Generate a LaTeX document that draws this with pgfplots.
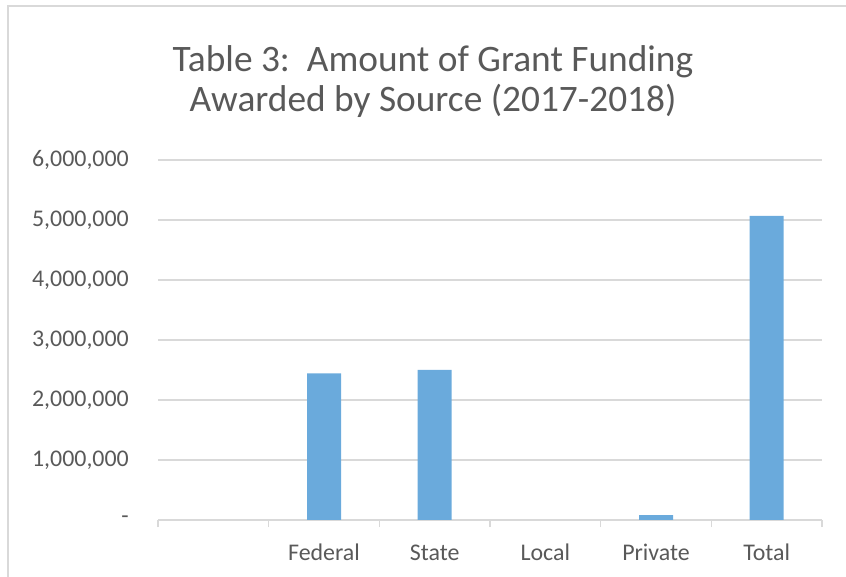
\documentclass[border=0pt]{standalone}
\usepackage{fontspec}
\setmainfont{Carlito}
\usepackage{pgfplots}
\pgfplotsset{compat=1.18}
\definecolor{gridgray}{HTML}{D9D9D9}
\definecolor{txt}{HTML}{595959}
\definecolor{barblue}{HTML}{6AAADC}
\begin{document}
\begin{tikzpicture}
\path[use as bounding box] (0bp,0bp) rectangle (846bp,577bp);
\draw[gridgray, line width=1.5bp] (8bp,0bp) -- (8bp,571bp) -- (846bp,571bp);
\node[anchor=base, text=txt, font=\fontsize{37.5}{42}\selectfont, inner sep=0pt] at (433bp,505bp) {Table 3:\ \ Amount of Grant Funding};
\node[anchor=base, text=txt, font=\fontsize{37.5}{42}\selectfont, inner sep=0pt] at (433bp,465bp) {Awarded by Source (2017-2018)};
\begin{axis}[
  at={(158bp,57bp)}, anchor=south west,
  scale only axis, width=664bp, height=360bp,
  ybar, bar width=34bp, bar shift=0pt,
  xmin=-0.5, xmax=5.5, ymin=0, ymax=6000000,
  ytick={0,1000000,2000000,3000000,4000000,5000000,6000000},
  yticklabels={{-},{1,000,000},{2,000,000},{3,000,000},{4,000,000},{5,000,000},{6,000,000}},
  scaled y ticks=false,
  xtick={1,2,3,4,5},
  xticklabels={Federal,State,Local,Private,Total},
  minor xtick={-0.5,0.5,1.5,2.5,3.5,4.5,5.5},
  ymajorgrids,
  grid style={gridgray, line width=1.5bp},
  axis line style={draw=none},
  major tick length=0pt,
  minor tick length=7bp,
  tick align=outside,
  tick pos=left,
  minor tick style={gridgray, line width=1.5bp},
  tick label style={text=txt, font=\fontsize{24}{28}\selectfont},
  yticklabel style={anchor=east, inner sep=0pt, xshift=-29bp},
  xticklabel style={anchor=base, inner sep=0pt, yshift=-40bp},
]
\addplot[fill=barblue, draw=none] coordinates {(1,2445000) (2,2500000) (4,80000) (5,5070000)};
\end{axis}
\end{tikzpicture}
\end{document}
